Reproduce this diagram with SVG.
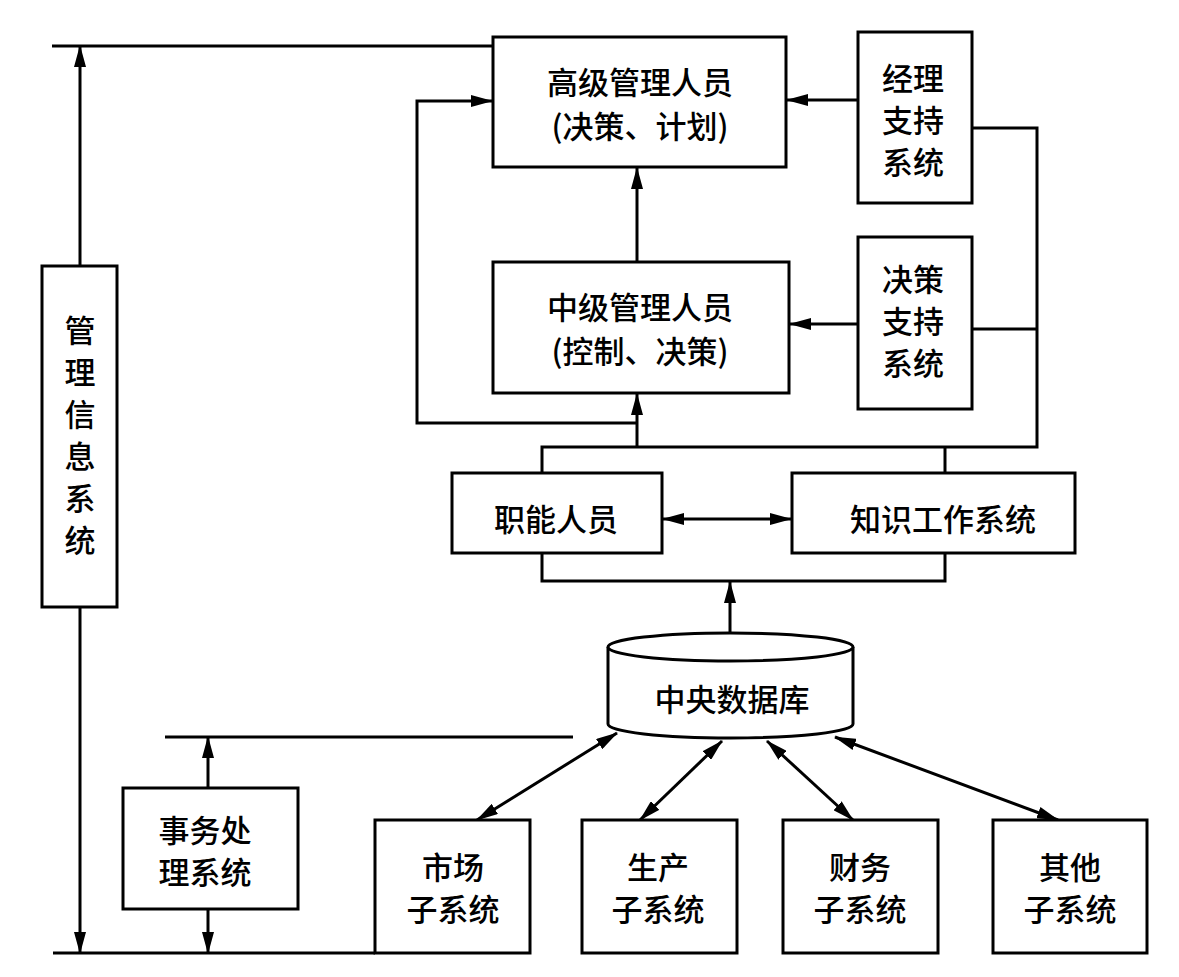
<svg xmlns="http://www.w3.org/2000/svg" width="1179" height="977" viewBox="0 0 1179 977">
<style>
.box{fill:#fff;stroke:#000;stroke-width:3}
.ln{fill:none;stroke:#000;stroke-width:3}
.t{font-family:"Noto Sans CJK SC","Noto Sans",sans-serif;font-size:31px;font-weight:500;fill:#000;text-anchor:middle;dominant-baseline:central}
</style>
<defs>
<marker id="ah" viewBox="0 0 22 12" refX="21" refY="6" markerWidth="22" markerHeight="12" markerUnits="userSpaceOnUse" orient="auto-start-reverse">
<path d="M0,0 L22,6 L0,12 z" fill="#000"/>
</marker>
</defs>
<rect width="1179" height="977" fill="#fff"/>
<g id="connectors">
<path class="ln" d="M52,46 H493"/>
<path class="ln" d="M80,266 V46" marker-end="url(#ah)"/>
<path class="ln" d="M80,607 V953" marker-end="url(#ah)"/>
<path class="ln" d="M53,953 H375"/>
<path class="ln" d="M208,909 V953" marker-end="url(#ah)"/>
<path class="ln" d="M208,788 V737" marker-end="url(#ah)"/>
<path class="ln" d="M165,737 H573"/>
<path class="ln" d="M858,100 H787" marker-end="url(#ah)"/>
<path class="ln" d="M858,324 H790" marker-end="url(#ah)"/>
<path class="ln" d="M972,128 H1037 V447 H542 V473"/>
<path class="ln" d="M972,329 H1037"/>
<path class="ln" d="M945,447 V473"/>
<path class="ln" d="M637,447 V394" marker-end="url(#ah)"/>
<path class="ln" d="M637,262 V168" marker-end="url(#ah)"/>
<path class="ln" d="M637,423 H417 V101 H492" marker-end="url(#ah)"/>
<path class="ln" d="M663,519 H791" marker-start="url(#ah)" marker-end="url(#ah)"/>
<path class="ln" d="M542,553 V581 H945 V553"/>
<path class="ln" d="M730,633 V582" marker-end="url(#ah)"/>
<path class="ln" d="M617,733 L477,820" marker-start="url(#ah)" marker-end="url(#ah)"/>
<path class="ln" d="M722,741 L640,820" marker-start="url(#ah)" marker-end="url(#ah)"/>
<path class="ln" d="M767,741 L853,820" marker-start="url(#ah)" marker-end="url(#ah)"/>
<path class="ln" d="M835,737 L1058,820" marker-start="url(#ah)" marker-end="url(#ah)"/>
</g>
<g id="mis">
<rect class="box" x="42" y="266" width="75" height="341"/>
<text class="t"><tspan x="80" y="328">管</tspan><tspan x="80" y="370">理</tspan><tspan x="80" y="412">信</tspan><tspan x="80" y="454">息</tspan><tspan x="80" y="496">系</tspan><tspan x="80" y="538">统</tspan></text>
</g>
<g id="senior">
<rect class="box" x="493" y="37" width="293" height="130"/>
<text class="t"><tspan x="640" y="80">高级管理人员</tspan><tspan x="640" y="124">(决策、计划)</tspan></text>
</g>
<g id="middle">
<rect class="box" x="493" y="262" width="296" height="131"/>
<text class="t"><tspan x="640" y="305">中级管理人员</tspan><tspan x="640" y="349">(控制、决策)</tspan></text>
</g>
<g id="ess">
<rect class="box" x="858" y="32" width="114" height="171"/>
<text class="t"><tspan x="913" y="76">经理</tspan><tspan x="913" y="118">支持</tspan><tspan x="913" y="160">系统</tspan></text>
</g>
<g id="dss">
<rect class="box" x="858" y="237" width="114" height="172"/>
<text class="t"><tspan x="913" y="277">决策</tspan><tspan x="913" y="319">支持</tspan><tspan x="913" y="361">系统</tspan></text>
</g>
<g id="staff">
<rect class="box" x="452" y="473" width="210" height="80"/>
<text class="t" x="556" y="517">职能人员</text>
</g>
<g id="kws">
<rect class="box" x="792" y="473" width="283" height="80"/>
<text class="t" x="943" y="517">知识工作系统</text>
</g>
<g id="db">
<path class="box" d="M608,647 V724 A122.5,14 0 0 0 853,724 V647"/>
<ellipse class="box" cx="730.5" cy="647" rx="122.5" ry="14"/>
<text class="t" x="732" y="697">中央数据库</text>
</g>
<g id="tps">
<rect class="box" x="123" y="788" width="175" height="121"/>
<text class="t"><tspan x="205" y="828">事务处</tspan><tspan x="205" y="870">理系统</tspan></text>
</g>
<g id="market">
<rect class="box" x="375" y="820" width="155" height="133"/>
<text class="t"><tspan x="453" y="865">市场</tspan><tspan x="453" y="907">子系统</tspan></text>
</g>
<g id="production">
<rect class="box" x="582" y="820" width="155" height="133"/>
<text class="t"><tspan x="658" y="865">生产</tspan><tspan x="658" y="907">子系统</tspan></text>
</g>
<g id="finance">
<rect class="box" x="783" y="820" width="155" height="133"/>
<text class="t"><tspan x="860" y="865">财务</tspan><tspan x="860" y="907">子系统</tspan></text>
</g>
<g id="other">
<rect class="box" x="993" y="820" width="154" height="133"/>
<text class="t"><tspan x="1070" y="865">其他</tspan><tspan x="1070" y="907">子系统</tspan></text>
</g>
</svg>
